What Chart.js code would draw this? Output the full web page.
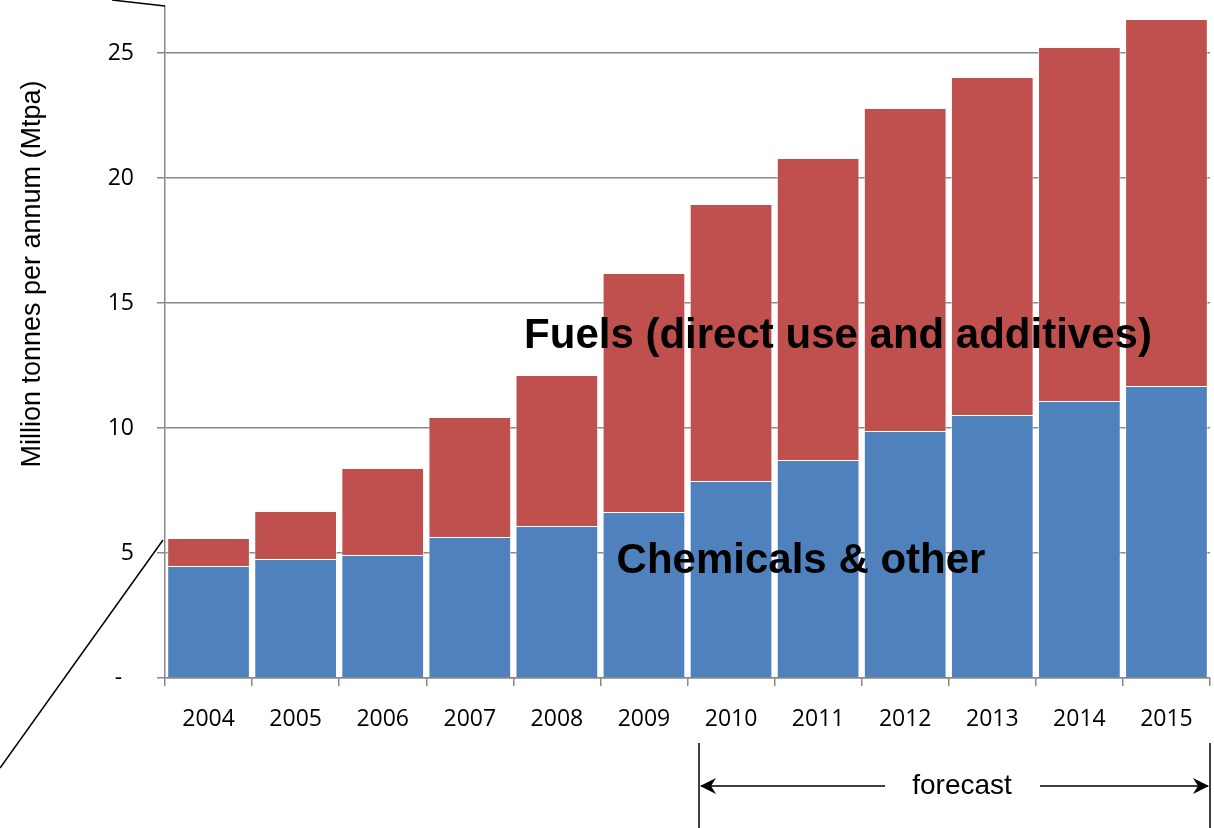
<!DOCTYPE html>
<html>
<head>
<meta charset="utf-8">
<script src="https://cdn.jsdelivr.net/npm/chart.js@4/dist/chart.umd.min.js"></script>
<style>
  html, body { margin: 0; padding: 0; background: #fff; }
  #wrap { width: 1214px; height: 828px; }
</style>
</head>
<body>
<div id="wrap"><canvas id="chart" width="1214" height="828"></canvas></div>
<script>
// Data (Mtpa)
const years = ['2004', '2005', '2006', '2007', '2008', '2009', '2010', '2011', '2012', '2013', '2014', '2015'];
const chemicals = [4.48, 4.76, 4.92, 5.64, 6.08, 6.64, 7.88, 8.72, 9.88, 10.52, 11.08, 11.68];
const fuels = [1.12, 1.92, 3.48, 4.80, 6.04, 9.56, 11.08, 12.08, 12.92, 13.52, 14.16, 14.68];
const yTicks = [0, 5, 10, 15, 20, 25];

const tickFont = { family: "'Open Sans', 'Liberation Sans', sans-serif", size: 23 };
const arial = "'Liberation Sans', Arial, sans-serif";

// Draws the axis title, callout lines, series labels and the forecast bracket
const annotations = {
  id: 'annotations',
  afterDraw(chart) {
    const ctx = chart.ctx;
    const area = chart.chartArea;
    ctx.save();

    // y axis title
    ctx.fillStyle = '#000';
    ctx.textAlign = 'center';
    ctx.textBaseline = 'middle';
    ctx.save();
    ctx.translate(33, 274);
    ctx.rotate(-Math.PI / 2);
    ctx.font = '27px ' + arial;
    ctx.fillText('Million tonnes per annum (Mtpa)', 0, 0);
    ctx.restore();

    // zoom callout lines on the left
    ctx.strokeStyle = '#000';
    ctx.lineWidth = 1.5;
    ctx.beginPath();
    ctx.moveTo(112, 0);
    ctx.lineTo(area.left, area.top);
    ctx.moveTo(area.left - 2, 540);
    ctx.lineTo(0, 768);
    ctx.stroke();

    // series labels
    ctx.font = 'bold 42px ' + arial;
    ctx.fillText('Fuels (direct use and additives)', 838, 336);
    ctx.fillText('Chemicals & other', 801, 561);

    // forecast bracket
    const fx0 = 699;
    const fx1 = area.right;
    const fy = 786;
    ctx.beginPath();
    ctx.moveTo(fx0, 743); ctx.lineTo(fx0, 828);
    ctx.moveTo(fx1, 743); ctx.lineTo(fx1, 828);
    ctx.moveTo(fx0 + 2, fy); ctx.lineTo(885, fy);
    ctx.moveTo(1040, fy); ctx.lineTo(fx1 - 2, fy);
    ctx.stroke();
    ctx.beginPath();
    ctx.moveTo(fx0 + 1, fy); ctx.lineTo(fx0 + 17, fy - 8); ctx.lineTo(fx0 + 12, fy); ctx.lineTo(fx0 + 17, fy + 8); ctx.closePath();
    ctx.moveTo(fx1 - 1, fy); ctx.lineTo(fx1 - 17, fy - 8); ctx.lineTo(fx1 - 12, fy); ctx.lineTo(fx1 - 17, fy + 8); ctx.closePath();
    ctx.fill();

    ctx.font = '28px ' + arial;
    ctx.fillText('forecast', 962, fy);
    ctx.restore();
  }
};

new Chart(document.getElementById('chart').getContext('2d'), {
  type: 'bar',
  data: {
    labels: years,
    datasets: [
      {
        label: 'Chemicals & other',
        data: chemicals,
        backgroundColor: '#4F81BD',
        borderColor: 'rgba(255,255,255,0.6)',
        borderWidth: 1,
        barPercentage: 0.95,
        categoryPercentage: 1.0
      },
      {
        label: 'Fuels (direct use and additives)',
        data: fuels,
        backgroundColor: '#C0504D',
        borderColor: 'rgba(255,255,255,0.6)',
        borderWidth: 1,
        barPercentage: 0.95,
        categoryPercentage: 1.0
      }
    ]
  },
  options: {
    responsive: false,
    animation: false,
    devicePixelRatio: 1,
    layout: { padding: { left: 0, right: 4, top: 6, bottom: 0 } },
    plugins: {
      legend: { display: false },
      tooltip: { enabled: false }
    },
    scales: {
      x: {
        stacked: true,
        grid: {
          offset: true,
          drawOnChartArea: false,
          drawTicks: true,
          tickLength: 8,
          color: '#888',
          lineWidth: 1.5
        },
        border: { color: '#888', width: 1.5 },
        ticks: { color: '#000', font: tickFont, padding: 20, maxRotation: 0 },
        afterFit(scale) {
          scale.height = 150;
          scale.paddingLeft = 0;
          scale.paddingRight = 0;
        }
      },
      y: {
        stacked: true,
        min: 0,
        max: 26.88,
        afterBuildTicks(scale) {
          scale.ticks = yTicks.map(v => ({ value: v }));
        },
        grid: {
          color: '#888',
          lineWidth: 1.5,
          drawTicks: true,
          tickLength: 8
        },
        border: { color: '#888', width: 1.5 },
        ticks: {
          color: '#000',
          font: tickFont,
          padding: 23,
          callback: v => (v === 0 ? '-  ' : v)
        },
        afterFit(scale) {
          scale.width = 165;
          scale.paddingTop = 0;
          scale.paddingBottom = 0;
        }
      }
    }
  },
  plugins: [annotations]
});
</script>
</body>
</html>
